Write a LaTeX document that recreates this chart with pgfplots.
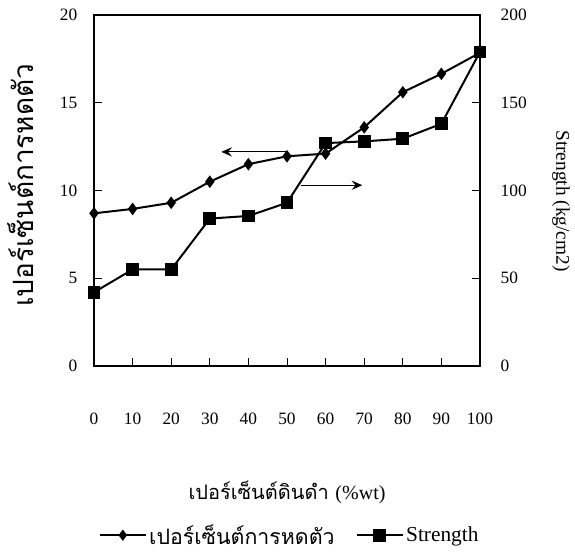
\documentclass[border=0pt]{standalone}
\usepackage{pgfplots}
\pgfplotsset{compat=1.18}
\usepackage{fontspec}
\setmainfont{Liberation Serif}
\newfontfamily\thaifont[Script=Thai]{Loma}
\usetikzlibrary{arrows.meta}
\begin{document}
\begin{tikzpicture}[x=1pt,y=1pt]
\path[use as bounding box] (-70.5,-140.25) rectangle (360.75,274.5);
\begin{axis}[at={(0,0)}, anchor=south west, scale only axis,
  width=289.5pt, height=263.25pt,
  xmin=0, xmax=100, ymin=0, ymax=20,
  xtick={0,10,...,100}, ytick={0,5,...,20},
  xtick pos=bottom, ytick pos=left, tick align=inside,
  major tick length=6pt,
  tick style={black, line width=0.7pt},
  axis line style={line width=0.8pt},
  /pgf/number format/assume math mode=true,
  tick label style={font=\fontsize{13}{15}\selectfont},
  xticklabel shift=32pt, yticklabel shift=9pt,
  xlabel={\thaifont\fontsize{15}{17}\selectfont เปอร์เซ็นต์ดินดำ \rmfamily(\%wt)},
  xlabel style={at={(axis description cs:0.5,-0.361)}, anchor=center},
  ylabel={\thaifont\fontsize{21}{23}\selectfont เปอร์เซ็นต์การหดตัว},
  ylabel style={at={(axis description cs:-0.19,0.515)}, anchor=center},
]
\addplot[black, line width=1.5pt, mark=diamond*, mark size=3.5pt] coordinates {
(0,8.7) (10,8.95) (20,9.3) (30,10.5) (40,11.5) (50,11.95) (60,12.1) (70,13.6) (80,15.6) (90,16.65) (100,17.85)};
\draw[line width=0.6pt, -{Stealth[length=8pt,width=7pt,inset=3pt]}] (axis cs:50,12.2) -- (axis cs:33,12.2);
\draw[line width=0.6pt, -{Stealth[length=8pt,width=7pt,inset=3pt]}] (axis cs:53.5,10.3) -- (axis cs:69.5,10.3);
\end{axis}
\begin{axis}[at={(0,0)}, anchor=south west, scale only axis,
  width=289.5pt, height=263.25pt,
  xmin=0, xmax=100, ymin=0, ymax=200,
  axis x line=none, axis y line*=right,
  ytick={0,50,...,200}, tick align=inside,
  major tick length=6pt,
  tick style={black, line width=0.7pt},
  axis line style={line width=0.8pt},
  /pgf/number format/assume math mode=true,
  tick label style={font=\fontsize{13}{15}\selectfont},
  yticklabel shift=12pt,
  ylabel={\fontsize{14.5}{16}\selectfont Strength (kg/cm2)},
  ylabel style={at={(axis description cs:1.21,0.47)}, anchor=center, rotate=180},
  legend style={at={(0.508,-0.482)}, anchor=center, draw=none, fill=none,
    legend columns=2, font=\fontsize{16}{18}\selectfont,
    /tikz/every even column/.append style={column sep=14pt}},
  legend image code/.code={\draw[mark repeat=2,mark phase=2] plot coordinates {(0cm,0cm) (0.6cm,0cm) (1.2cm,0cm)};},
]
\addlegendimage{black, line width=1.5pt, mark=diamond*, mark size=3pt}
\addlegendentry{\thaifont\fontsize{16}{18}\selectfont เปอร์เซ็นต์การหดตัว}
\addplot[black, line width=1.5pt, mark=square*, mark size=4pt] coordinates {
(0,42) (10,55) (20,55) (30,84) (40,85.5) (50,93) (60,127) (70,128) (80,129.5) (90,138) (100,179)};
\addlegendentry{Strength}
\end{axis}
\end{tikzpicture}
\end{document}
